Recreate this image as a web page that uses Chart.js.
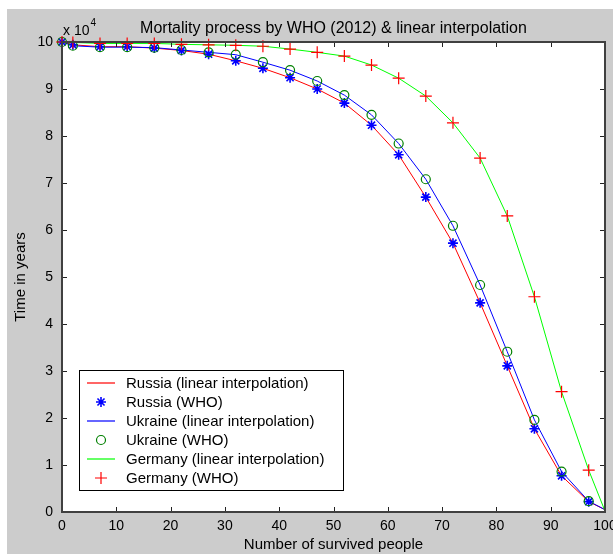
<!DOCTYPE html>
<html><head><meta charset="utf-8">
<script src="https://cdn.jsdelivr.net/npm/chart.js@4/dist/chart.umd.min.js"></script>
<style>html,body{margin:0;padding:0;background:#fff;overflow:hidden}canvas{display:block}</style>
</head><body>
<canvas id="c" width="613" height="554"></canvas>
<script>
// ---- data ----
const ages = [0, 2, 7, 12, 17, 22, 27, 32, 37, 42, 47, 52, 57, 62, 67, 72, 77, 82, 87, 92, 97];
const russiaWHO  = [100000, 99400, 99000, 99000, 98700, 98200, 97400, 96000, 94400, 92400, 90000, 87000, 82300, 76000, 67000, 57200, 44500, 31100, 17700, 7700, 2200];
const ukraineWHO = [100000, 99200, 98900, 98900, 98800, 98300, 97800, 97300, 95700, 94000, 91700, 88700, 84500, 78400, 70800, 60900, 48300, 34100, 19600, 8600, 2300];
const germanyWHO = [100000, 99900, 99700, 99700, 99700, 99500, 99400, 99300, 99100, 98500, 97800, 97000, 95100, 92300, 88500, 82800, 75300, 63000, 45800, 25600, 8900];
const endAge = 100;
const russiaEnd = 500;
const ukraineEnd = 500;
const germanyEnd = 200;
const xTickValues = [0, 10, 20, 30, 40, 50, 60, 70, 80, 90, 100];
const yTickValues = [0, 10000, 20000, 30000, 40000, 50000, 60000, 70000, 80000, 90000, 100000];
const yExponentText = 'x 10';
const yExponent = '4';
const chartTitle = 'Mortality process by WHO (2012) & linear interpolation';
const xTitle = 'Number of survived people';
const yTitle = 'Time in years';
const seriesLabels = ['Russia (linear interpolation)', 'Russia (WHO)', 'Ukraine (linear interpolation)', 'Ukraine (WHO)', 'Germany (linear interpolation)', 'Germany (WHO)'];

const FONT = "'Liberation Sans', Arial, sans-serif";
const pts = (xs, ys) => xs.map((x, i) => ({x, y: ys[i]}));
const withEnd = (ys, e) => pts(ages.concat([endAge]), ys.concat([e]));

const lineDs = (label, data, color) => ({label, data, showLine: true, borderColor: color, backgroundColor: color,
  borderWidth: 1, pointRadius: 0, pointHoverRadius: 0, tension: 0, clip: false, isLine: true});
const markDs = (label, data, color, style, r, bw) => ({label, data, showLine: false, borderColor: color,
  backgroundColor: 'rgba(0,0,0,0)', pointStyle: style, pointRadius: r, pointBorderWidth: bw, clip: false, isLine: false});

const datasets = [
  lineDs(seriesLabels[0], withEnd(russiaWHO, russiaEnd), '#ff0000'),
  markDs(seriesLabels[1], pts(ages, russiaWHO), '#0000ff', 'star', 5, 1.6),
  lineDs(seriesLabels[2], withEnd(ukraineWHO, ukraineEnd), '#0000ff'),
  markDs(seriesLabels[3], pts(ages, ukraineWHO), '#008000', 'circle', 4.5, 1.2),
  lineDs(seriesLabels[4], withEnd(germanyWHO, germanyEnd), '#00ff00'),
  markDs(seriesLabels[5], pts(ages, germanyWHO), '#ff0000', 'cross', 6, 1.2)
];
datasets.forEach((d, i) => d.order = datasets.length - i);

const bgPlugin = {
  id: 'bg',
  beforeDraw(chart) {
    const {ctx, chartArea: a} = chart;
    ctx.save();
    ctx.fillStyle = '#ffffff';
    ctx.fillRect(0, 0, chart.width, chart.height);
    ctx.fillStyle = '#cccccc';
    ctx.fillRect(7, 9, chart.width - 7, chart.height - 9);
    ctx.fillStyle = '#ffffff';
    ctx.fillRect(a.left, a.top, a.right - a.left, a.bottom - a.top);
    ctx.restore();
  }
};

const framePlugin = {
  id: 'frame',
  afterDatasetsDraw(chart) {
    const {ctx, chartArea: a, scales} = chart;
    ctx.save();
    ctx.strokeStyle = '#222222';
    ctx.lineWidth = 1;
    const tl = 5;
    ctx.beginPath();
    xTickValues.forEach(v => {
      const x = Math.round(scales.x.getPixelForValue(v)) + 0.5;
      ctx.moveTo(x, a.bottom); ctx.lineTo(x, a.bottom - tl);
      ctx.moveTo(x, a.top); ctx.lineTo(x, a.top + tl);
    });
    yTickValues.forEach(v => {
      const y = Math.round(scales.y.getPixelForValue(v)) + 0.5;
      ctx.moveTo(a.left, y); ctx.lineTo(a.left + tl, y);
      ctx.moveTo(a.right, y); ctx.lineTo(a.right - tl, y);
    });
    ctx.stroke();
    ctx.strokeStyle = '#404040';
    ctx.lineWidth = 2;
    ctx.strokeRect(a.left, a.top, a.right - a.left, a.bottom - a.top);
    ctx.fillStyle = '#000';
    ctx.textBaseline = 'middle';
    ctx.textAlign = 'left';
    ctx.font = '14px ' + FONT;
    ctx.fillText(yExponentText, a.left + 1, a.top - 11);
    const w = ctx.measureText(yExponentText).width;
    ctx.font = '10px ' + FONT;
    ctx.fillText(yExponent, a.left + 2 + w, a.top - 19);
    ctx.restore();
  },
  afterDraw(chart) {
    const {ctx, chartArea: a} = chart;
    const ds = chart.data.datasets;
    const bx = a.left + 17, by = a.bottom - 142, bw = 264, bh = 120;
    ctx.save();
    ctx.fillStyle = '#ffffff';
    ctx.fillRect(bx, by, bw, bh);
    ctx.strokeStyle = '#000';
    ctx.lineWidth = 1;
    ctx.strokeRect(bx + 0.5, by + 0.5, bw, bh);
    ctx.font = '15px ' + FONT;
    ctx.textBaseline = 'middle';
    ctx.textAlign = 'left';
    ds.forEach((d, i) => {
      const cy = by + 13 + 19 * i;
      if (d.isLine) {
        ctx.strokeStyle = d.borderColor;
        ctx.lineWidth = 1.2;
        ctx.beginPath();
        ctx.moveTo(bx + 8, cy); ctx.lineTo(bx + 36, cy);
        ctx.stroke();
      } else {
        ctx.strokeStyle = d.borderColor;
        ctx.fillStyle = d.backgroundColor;
        ctx.lineWidth = d.pointBorderWidth;
        Chart.helpers.drawPoint(ctx, {pointStyle: d.pointStyle, radius: d.pointRadius, rotation: 0, borderWidth: d.pointBorderWidth}, bx + 22, cy);
      }
      ctx.fillStyle = '#000';
      ctx.fillText(d.label, bx + 47, cy + 1);
    });
    ctx.restore();
  }
};

new Chart(document.getElementById('c'), {
  type: 'scatter',
  data: {datasets},
  options: {
    responsive: false,
    animation: false,
    devicePixelRatio: 1,
    layout: {padding: {left: 7, right: 8, top: 0, bottom: 0}},
    plugins: {
      legend: {display: false},
      tooltip: {enabled: false},
      title: {display: true, text: chartTitle, color: '#000', fullSize: false,
        font: {family: FONT, size: 16, weight: 'normal'}, padding: {top: 19, bottom: 3.8}}
    },
    scales: {
      x: {
        type: 'linear', min: 0, max: 100,
        afterBuildTicks: s => { s.ticks = xTickValues.map(v => ({value: v})); },
        afterFit: s => { s.height = 42; s.paddingLeft = 0; s.paddingRight = 0; },
        grid: {display: false, drawTicks: false},
        border: {display: false},
        ticks: {color: '#000', padding: 6, maxRotation: 0, autoSkip: false, font: {family: FONT, size: 14}},
        title: {display: true, text: xTitle, color: '#000', font: {family: FONT, size: 15}, padding: {top: 0, bottom: 0}}
      },
      y: {
        type: 'linear', min: 0, max: 100000,
        afterBuildTicks: s => { s.ticks = yTickValues.map(v => ({value: v})); },
        afterFit: s => { s.width = 55; s.paddingTop = 0; s.paddingBottom = 0; },
        grid: {display: false, drawTicks: false},
        border: {display: false},
        ticks: {color: '#000', padding: 9, autoSkip: false, font: {family: FONT, size: 14},
          callback: v => String(v / 10000)},
        title: {display: true, text: yTitle, color: '#000', font: {family: FONT, size: 15}, padding: {top: 5, bottom: 0}}
      }
    }
  },
  plugins: [bgPlugin, framePlugin]
});
</script>
</body></html>
